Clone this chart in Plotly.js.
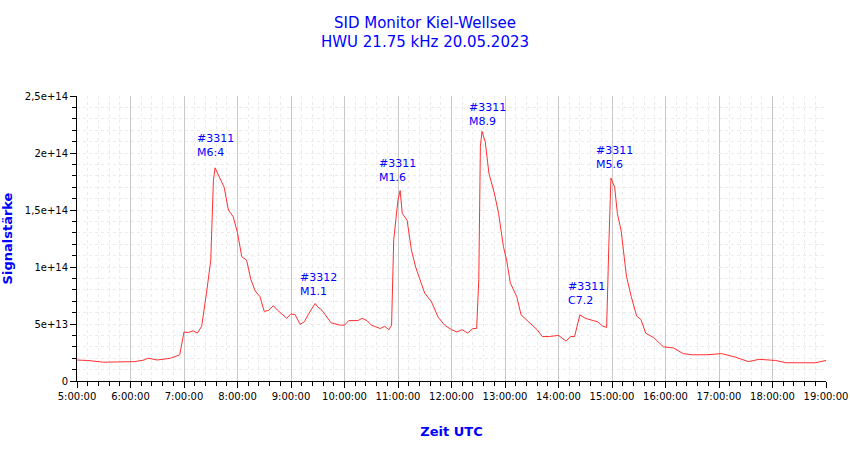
<!DOCTYPE html>
<html>
<head>
<meta charset="utf-8">
<script src="https://cdn.plot.ly/plotly-3.0.1.min.js"></script>
<style>body{margin:0;background:#fff}#graph_area{width:850px;height:459px}</style>
</head>
<body>
<div id="graph_area"></div>
<script>
// time in hours UTC, signal in units of 1e13
const hours = [5.0, 5.2, 5.5, 6.0, 6.08, 6.25, 6.33, 6.5, 6.75, 6.92, 7.0, 7.08, 7.17, 7.25, 7.33, 7.42, 7.5, 7.55, 7.58,
    7.67, 7.75, 7.83, 7.92, 8.0, 8.08, 8.17, 8.25, 8.33, 8.42, 8.5, 8.58, 8.67, 8.75, 8.92, 9.0, 9.08, 9.17, 9.25, 9.33,
    9.45, 9.5, 9.58, 9.75, 9.92, 10.0, 10.08, 10.25, 10.33, 10.42, 10.5, 10.67, 10.75, 10.83, 10.88, 10.92, 11.0, 11.04,
    11.08, 11.17, 11.25, 11.33, 11.41, 11.5, 11.62, 11.75, 11.87, 12.0, 12.1, 12.2, 12.3, 12.4, 12.47, 12.51, 12.54,
    12.57, 12.63, 12.7, 12.8, 12.88, 12.97, 13.03, 13.1, 13.22, 13.3, 13.46, 13.6, 13.7, 13.83, 14.0, 14.14, 14.23,
    14.3, 14.4, 14.5, 14.65, 14.73, 14.83, 14.9, 14.94, 14.98, 15.05, 15.1, 15.17, 15.27, 15.36, 15.46, 15.54, 15.63,
    15.78, 15.96, 16.15, 16.33, 16.5, 16.77, 17.05, 17.3, 17.55, 17.75, 18.06, 18.25, 18.5, 18.8, 19.0];
const signal = [1.84, 1.8, 1.65, 1.65, 1.7, 1.84, 2.0, 1.84, 2.0, 2.3, 4.3, 4.25, 4.4, 4.2, 4.8, 7.7, 10.6, 17.6, 18.7,
    17.8, 17.0, 15.0, 14.4, 13.0, 10.9, 10.6, 8.9, 7.9, 7.4, 6.1, 6.2, 6.6, 6.2, 5.5, 5.9, 5.8, 4.97, 5.2, 5.9,
    6.8, 6.5, 6.2, 5.1, 4.9, 4.9, 5.3, 5.3, 5.5, 5.3, 4.9, 4.6, 4.8, 4.5, 4.9, 12.4, 15.9, 16.7,
    14.7, 14.1, 11.5, 10.0, 8.9, 7.7, 7.0, 5.6, 4.9, 4.5, 4.3, 4.5, 4.2, 4.6, 4.6, 8.9, 20.6,
    21.9, 21.0, 18.2, 16.5, 14.7, 11.8, 10.6, 8.6, 7.4, 5.8, 5.1, 4.5, 3.9, 3.9, 4.0, 3.5, 3.9,
    3.9, 5.8, 5.5, 5.3, 5.2, 4.8, 4.7, 11.8, 17.8, 17.0, 14.7, 13.2, 9.2, 7.4, 5.7, 5.4, 4.2,
    3.8, 3.0, 2.9, 2.4, 2.3, 2.3, 2.4, 2.1, 1.7, 1.9, 1.8, 1.6, 1.6, 1.6, 1.8];

const xTickVals = [5, 6, 7, 8, 9, 10, 11, 12, 13, 14, 15, 16, 17, 18, 19];
const xTickText = xTickVals.map(h => h + ":00:00");
const yTickVals = [0, 5e13, 1e14, 1.5e14, 2e14, 2.5e14];
const yTickText = ["0", "5e+13", "1e+14", "1,5e+14", "2e+14", "2,5e+14"];

const flareLabels = ["#3311<br>M6:4", "#3312<br>M1.1", "#3311<br>M1.6", "#3311<br>M8.9", "#3311<br>C7.2", "#3311<br>M5.6"];
const flareX = [7.2, 9.13, 10.6, 12.29, 14.14, 14.66];
const flareY = [2.2e14, 0.98e14, 1.98e14, 2.47e14, 0.9e14, 2.1e14];

const blue = "#0000ff";
const fnt = {family: "DejaVu Sans", size: 10, color: "#000"};

Plotly.newPlot("graph_area", [{
    x: hours,
    y: signal.map(v => v * 1e13),
    mode: "lines",
    type: "scatter",
    line: {color: "#ff3030", width: 1},
    hoverinfo: "skip",
}], {
    width: 850, height: 459,
    margin: {l: 77, r: 24, t: 96, b: 78},
    paper_bgcolor: "#fff", plot_bgcolor: "#fff",
    showlegend: false,
    font: fnt,
    title: {text: "SID Monitor Kiel-Wellsee<br>HWU 21.75 kHz 20.05.2023", x: 0.5, y: 0.94, yanchor: "top",
        font: {family: "DejaVu Sans", size: 15, color: blue}},
    xaxis: {
        range: [5, 19], tickvals: xTickVals, ticktext: xTickText,
        showline: true, linecolor: "#000", ticks: "outside", ticklen: 6, tickcolor: "#000",
        gridcolor: "#c8c8c8", gridwidth: 1, zeroline: false,
        minor: {dtick: 0.2, ticks: "outside", ticklen: 4, tickcolor: "#000", showgrid: true, gridcolor: "#ebebeb", griddash: "3px,3px"},
        title: {text: "Zeit UTC", standoff: 25, font: {family: "DejaVu Sans", size: 13, color: blue, weight: "bold"}},
        fixedrange: true
    },
    yaxis: {
        range: [0, 2.5e14], tickvals: yTickVals, ticktext: yTickText,
        showline: true, linecolor: "#000", ticks: "outside", ticklen: 6, tickcolor: "#000",
        gridcolor: "#ebebeb", griddash: "3px,3px", zeroline: false,
        minor: {dtick: 1e13, ticks: "outside", ticklen: 4, tickcolor: "#000", showgrid: true, gridcolor: "#ebebeb", griddash: "3px,3px"},
        title: {text: "Signalstärke", standoff: 9, font: {family: "DejaVu Sans", size: 13, color: blue, weight: "bold"}},
        fixedrange: true
    },
    annotations: flareLabels.map((t, i) => ({
        x: flareX[i], y: flareY[i], text: t, showarrow: false, xanchor: "left", yanchor: "top", align: "left",
        font: {family: "DejaVu Sans", size: 11, color: blue}
    }))
}, {staticPlot: true});
</script>
</body>
</html>
